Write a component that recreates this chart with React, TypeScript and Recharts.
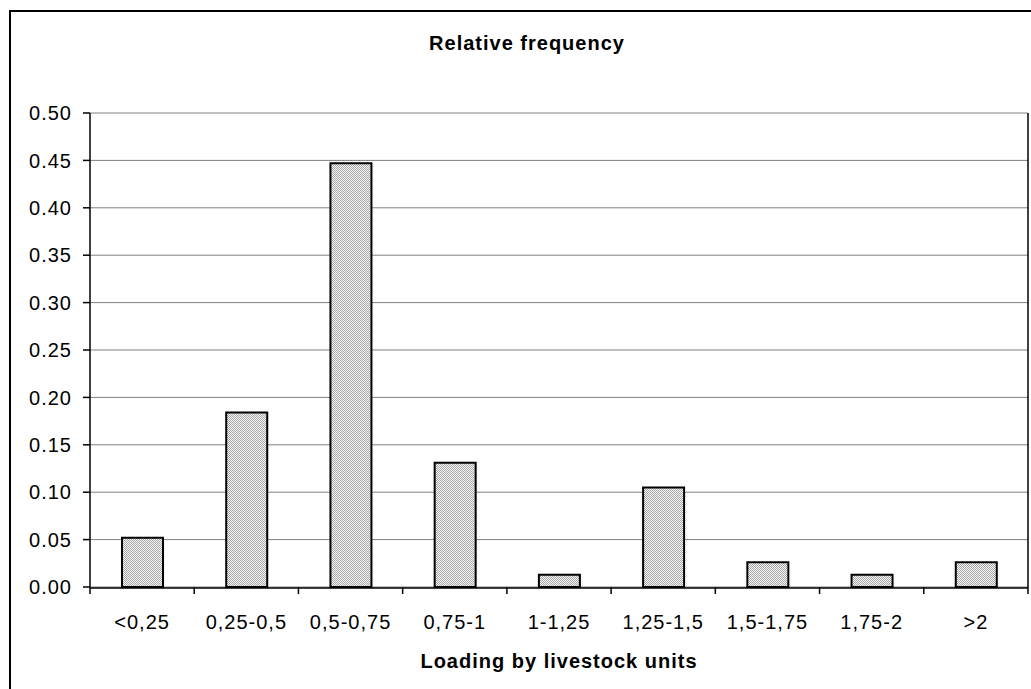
import React from "react";
import {
    BarChart,
    Bar,
    XAxis,
    YAxis,
    CartesianGrid,
    ReferenceLine,
} from "recharts";

const categories = [
    "<0,25",
    "0,25-0,5",
    "0,5-0,75",
    "0,75-1",
    "1-1,25",
    "1,25-1,5",
    "1,5-1,75",
    "1,75-2",
    ">2",
];

const frequency = [0.052, 0.184, 0.447, 0.131, 0.013, 0.105, 0.026, 0.013, 0.026];

const yTicks = [0, 0.05, 0.1, 0.15, 0.2, 0.25, 0.3, 0.35, 0.4, 0.45, 0.5];

// category boundaries, used only for the small tick marks under the axis
const edgeTicks = [0, 1, 2, 3, 4, 5, 6, 7, 8, 9];

const data = categories.map((name, i) => ({
    name,
    value: frequency[i],
    edge: i,
}));

const font = "'Liberation Sans', Arial, sans-serif";

const tickStyle = {
    fontFamily: font,
    fontSize: 20,
    fill: "#000",
    letterSpacing: 1,
};

const NoLabel = () => <g />;

export default function App() {
    return (
        <div
            style={{
                position: "absolute",
                left: 0,
                top: 0,
                width: 1031,
                height: 689,
                overflow: "hidden",
                background: "#fff",
                fontFamily: font,
            }}
        >
            <div
                style={{
                    position: "absolute",
                    left: 9,
                    top: 10,
                    width: 1100,
                    height: 800,
                    borderLeft: "2px solid #000",
                    borderTop: "2px solid #000",
                }}
            />

            <div
                style={{
                    position: "absolute",
                    left: 0,
                    top: 33,
                    width: 1054,
                    textAlign: "center",
                    fontSize: 20,
                    lineHeight: "20px",
                    fontWeight: "bold",
                    letterSpacing: 1,
                }}
            >
                Relative frequency
            </div>

            <div style={{ position: "absolute", left: 0, top: 0 }}>
                <BarChart
                    width={1031}
                    height={689}
                    data={data}
                    margin={{ top: 113, right: 3, left: 0, bottom: 42 }}
                >
                    <defs>
                        <pattern
                            id="hatch"
                            width="2"
                            height="2"
                            patternUnits="userSpaceOnUse"
                        >
                            <rect width="2" height="2" fill="#f6f6f6" />
                            <rect width="1" height="1" fill="#a8a8a8" />
                            <rect x="1" y="1" width="1" height="1" fill="#a8a8a8" />
                        </pattern>
                    </defs>

                    <CartesianGrid
                        xAxisId="zcat"
                        vertical={false}
                        stroke="#808080"
                        strokeWidth={1}
                    />

                    <XAxis
                        xAxisId="aedge"
                        type="number"
                        dataKey="edge"
                        domain={[0, 9]}
                        ticks={edgeTicks}
                        tick={<NoLabel />}
                        axisLine={false}
                        tickLine={{ stroke: "#000", strokeWidth: 1.5 }}
                        tickSize={7}
                        height={1}
                        allowDataOverflow
                    />

                    <XAxis
                        xAxisId="zcat"
                        dataKey="name"
                        tick={tickStyle}
                        tickLine={false}
                        axisLine={{ stroke: "#000", strokeWidth: 1.5 }}
                        tickMargin={21}
                        interval={0}
                        height={59}
                    />

                    <YAxis
                        domain={[0, 0.5]}
                        ticks={yTicks}
                        tickFormatter={(v: number) => v.toFixed(2)}
                        tick={tickStyle}
                        tickLine={{ stroke: "#000", strokeWidth: 1.5 }}
                        axisLine={{ stroke: "#000", strokeWidth: 1.5 }}
                        tickSize={7}
                        tickMargin={11}
                        width={90}
                        interval={0}
                    />

                    <ReferenceLine
                        xAxisId="aedge"
                        x={9}
                        stroke="#000"
                        strokeWidth={1.5}
                    />

                    <Bar
                        xAxisId="zcat"
                        dataKey="value"
                        fill="url(#hatch)"
                        stroke="#000"
                        strokeWidth={2}
                        barSize={41}
                        isAnimationActive={false}
                    />
                </BarChart>
            </div>

            <div
                style={{
                    position: "absolute",
                    left: 90,
                    top: 651,
                    width: 938,
                    textAlign: "center",
                    fontSize: 20,
                    lineHeight: "20px",
                    fontWeight: "bold",
                    letterSpacing: 1,
                }}
            >
                Loading by livestock units
            </div>
        </div>
    );
}
